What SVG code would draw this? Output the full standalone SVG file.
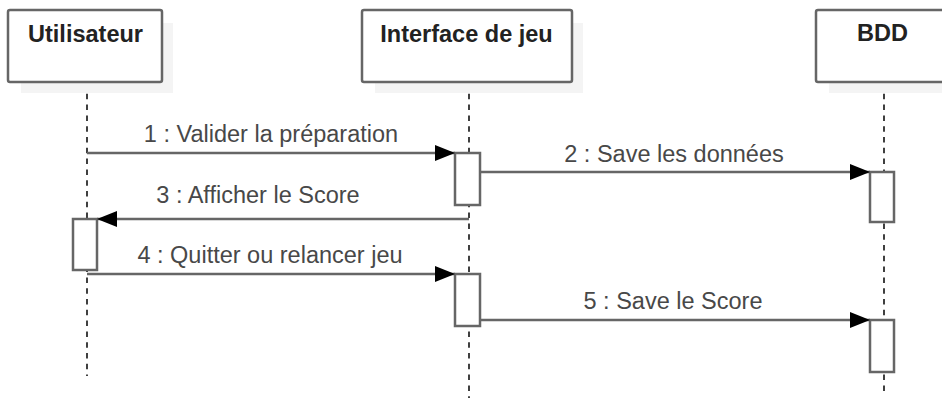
<svg xmlns="http://www.w3.org/2000/svg" width="942" height="398" viewBox="0 0 942 398">
  <style>
    .shadow { fill: #f4f4f4; stroke: none; }
    .head { fill: #ffffff; stroke: #666666; stroke-width: 2.5; }
    .title { font-family: "Liberation Sans", Arial, sans-serif; font-size: 23.5px; font-weight: bold; fill: #222222; text-anchor: middle; }
    .life { stroke: #111111; stroke-width: 1.6; stroke-dasharray: 5.5 5.3; fill: none; }
    .act { fill: #ffffff; stroke: #666666; stroke-width: 2.5; }
    .msg { stroke: #666666; stroke-width: 2.5; fill: none; }
    .label { font-family: "Liberation Sans", Arial, sans-serif; font-size: 23.5px; fill: #484848; text-anchor: middle; }
  </style>
  <defs>
    <marker id="arrow" viewBox="0 0 20 16" refX="20" refY="8" markerWidth="20" markerHeight="16" markerUnits="userSpaceOnUse" orient="auto">
      <path d="M0,0 L20,8 L0,16 Z" fill="#000000"/>
    </marker>
  </defs>
  <rect width="942" height="398" fill="#ffffff"/>

  <!-- lifelines (drawn first, behind activations) -->
  <g id="lifelines">
    <line class="life" x1="87" y1="83" x2="87" y2="376"/>
    <line class="life" x1="469" y1="83" x2="469" y2="398"/>
    <line class="life" x1="884" y1="83" x2="884" y2="392"/>
  </g>

  <!-- participant heads -->
  <g id="utilisateur">
    <rect class="shadow" x="21" y="23" width="152" height="70"/>
    <rect class="head" x="8" y="10" width="154" height="72" rx="2"/>
    <text class="title" x="85.5" y="42">Utilisateur</text>
  </g>
  <g id="interface">
    <rect class="shadow" x="375" y="23" width="208" height="70"/>
    <rect class="head" x="362" y="10" width="210" height="72" rx="2"/>
    <text class="title" x="466.5" y="42">Interface de jeu</text>
  </g>
  <g id="bdd">
    <rect class="shadow" x="829" y="23" width="140" height="70"/>
    <rect class="head" x="816" y="10" width="140" height="72" rx="2"/>
    <text class="title" x="882.5" y="41">BDD</text>
  </g>

  <!-- activation bars -->
  <g id="activations">
    <rect id="act-ui-1" class="act" x="455" y="153" width="25" height="52"/>
    <rect id="act-db-1" class="act" x="870" y="172" width="24" height="50"/>
    <rect id="act-user-1" class="act" x="73" y="219" width="24" height="51"/>
    <rect id="act-ui-2" class="act" x="455" y="274" width="25" height="52"/>
    <rect id="act-db-2" class="act" x="870" y="320" width="24" height="52"/>
  </g>

  <!-- messages -->
  <g id="connectors">
    <line class="msg" x1="87" y1="153" x2="455" y2="153" marker-end="url(#arrow)"/>
    <line class="msg" x1="480" y1="172" x2="870" y2="172" marker-end="url(#arrow)"/>
    <line class="msg" x1="469" y1="219" x2="97" y2="219" marker-end="url(#arrow)"/>
    <line class="msg" x1="87" y1="274" x2="455" y2="274" marker-end="url(#arrow)"/>
    <line class="msg" x1="480" y1="320" x2="870" y2="320" marker-end="url(#arrow)"/>
  </g>

  <g id="labels">
    <text class="label" x="271" y="141.5">1 : Valider la préparation</text>
    <text class="label" x="674" y="161.5">2 : Save les données</text>
    <text class="label" x="258" y="202.5">3 : Afficher le Score</text>
    <text class="label" x="270" y="262.5">4 : Quitter ou relancer jeu</text>
    <text class="label" x="673" y="309">5 : Save le Score</text>
  </g>
</svg>
